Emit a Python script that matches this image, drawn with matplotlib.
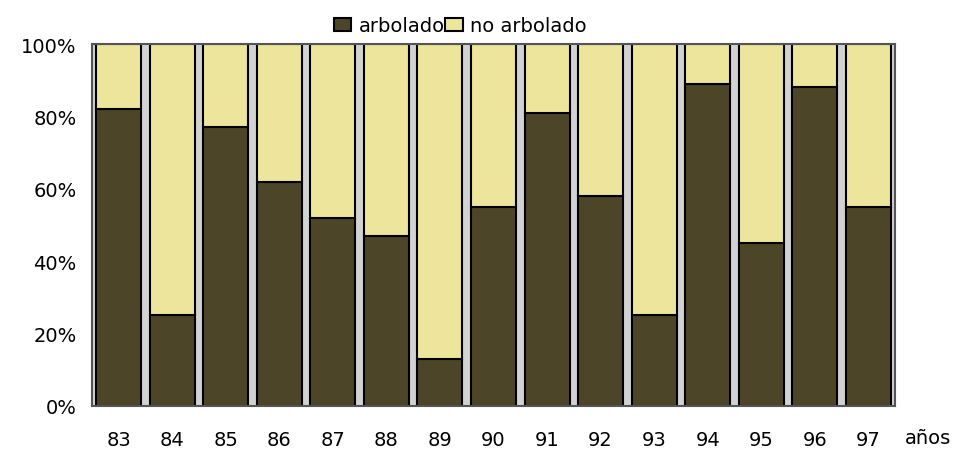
import matplotlib.pyplot as plt
import numpy as np

plt.rcParams['font.family'] = ['DejaVu Sans']

years = ['83', '84', '85', '86', '87', '88', '89', '90', '91', '92', '93', '94', '95', '96', '97']
arbolado = [82, 25, 77, 62, 52, 47, 13, 55, 81, 58, 25, 89, 45, 88, 55]
no_arbolado = [100 - v for v in arbolado]

dark = '#4d4527'
light = '#ede59c'

fig = plt.figure(figsize=(9.67, 4.52), dpi=100)
ax = fig.add_axes([0.0951, 0.0996, 0.8305, 0.8008])
ax.set_facecolor('#d2d2d2')

x = np.arange(len(years))
ax.bar(x, arbolado, width=0.84, color=dark, edgecolor='black', linewidth=1.5, label='arbolado')
ax.bar(x, no_arbolado, width=0.84, bottom=arbolado, color=light, edgecolor='black', linewidth=1.5,
       label='no arbolado')

ax.set_xlim(-0.5, len(years) - 0.5)
ax.set_ylim(0, 100)
ax.set_yticks([0, 20, 40, 60, 80, 100])
ax.set_yticklabels(['0%', '20%', '40%', '60%', '80%', '100%'])
ax.set_xticks(x)
ax.set_xticklabels(years)
ax.tick_params(length=0, labelsize=14, pad=11)
ax.tick_params(axis='x', pad=17)
for s in ax.spines.values():
    s.set_color('#555555')
    s.set_linewidth(1.5)

fig.text(0.936, 0.008, 'años', fontsize=14, ha='left', va='bottom')

fig.legend(loc='upper center', bbox_to_anchor=(0.476, 1.0), ncol=2, frameon=False, fontsize=14,
           handlelength=0.9, handleheight=0.6, handletextpad=0.4, columnspacing=0.0)

fig.savefig('out.png', dpi=100)
